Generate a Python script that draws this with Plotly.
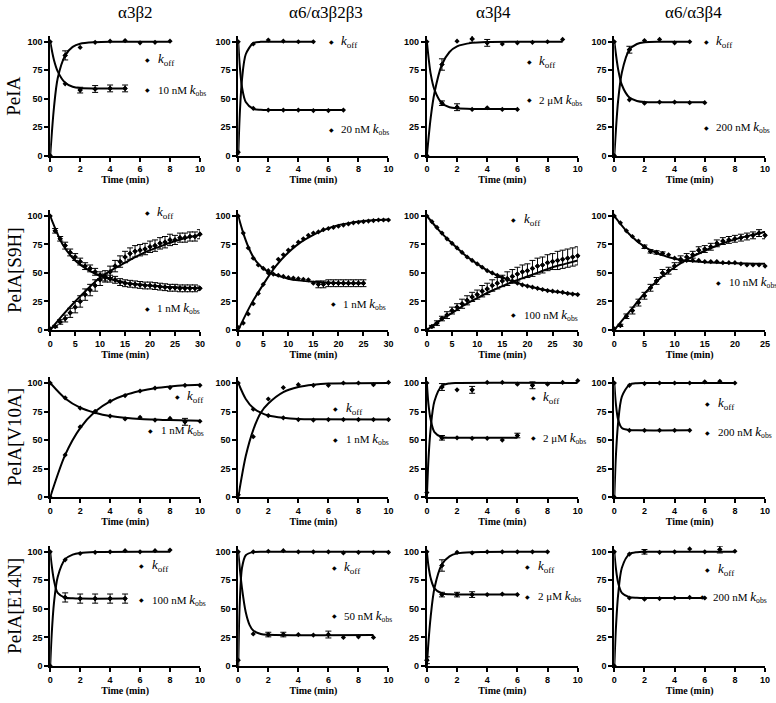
import plotly.graph_objects as go

# column / row headings
col_titles = ["α3β2", "α6/α3β2β3", "α3β4", "α6/α3β4"]
row_titles = ["PeIA", "PeIA[S9H]", "PeIA[V10A]", "PeIA[E14N]"]
conc_labels = [["10 nM", "20 nM", "2 μM", "200 nM"],
               ["1 nM", "1 nM", "100 nM", "10 nM"],
               ["1 nM", "1 nM", "2 μM", "200 nM"],
               ["100 nM", "50 nM", "2 μM", "200 nM"]]
x_max = [[10, 10, 10, 10], [30, 30, 30, 25], [10, 10, 10, 10], [10, 10, 10, 10]]
x_dtick = [[2, 2, 2, 2], [5, 5, 5, 5], [2, 2, 2, 2], [2, 2, 2, 2]]

# ---- PeIA ----
p11_off_t = list(range(9))
p11_off = [0, 88, 95, 99.5, 100.5, 101, 99, 99.5, 100.5]
p11_off_err = [0, 4, 0, 0, 0, 0, 0, 0, 0]
p11_obs_t = list(range(6))
p11_obs = [100, 63, 57.5, 58.5, 59, 59]
p11_obs_err = [0, 0, 2.5, 3, 3, 3]
p11_fit_off_t = [0, 0.25, 0.5, 1, 1.5, 2, 3, 4, 8]
p11_fit_off = [0, 42, 68, 88, 95.5, 98.3, 99.6, 100, 100]
p11_fit_obs_t = [0, 0.25, 0.5, 1, 1.5, 2, 3, 5]
p11_fit_obs = [100, 84, 74, 64, 60.5, 59.4, 59, 59]

p12_off_t = list(range(6))
p12_off = [3, 98, 101.5, 100.5, 100, 100]
p12_off_err = [0, 0, 0, 0, 0, 0]
p12_obs_t = list(range(8))
p12_obs = [100, 41.5, 40, 40, 40, 39.5, 39.5, 40]
p12_obs_err = [0, 0, 0, 0, 0, 0, 0, 0]
p12_fit_off_t = [0, 0.1, 0.25, 0.5, 1, 1.5, 2, 5]
p12_fit_off = [0, 36, 67, 89, 98.8, 99.9, 100, 100]
p12_fit_obs_t = [0, 0.1, 0.25, 0.5, 1, 1.5, 2, 7]
p12_fit_obs = [100, 79, 60, 47, 41, 40.2, 40, 40]

p13_off_t = list(range(10))
p13_off = [0, 80, 100.5, 102.5, 99, 98, 99, 99.5, 100, 102]
p13_off_err = [0, 5, 0, 3, 3, 0, 0, 0, 0, 0]
p13_obs_t = list(range(7))
p13_obs = [100, 46, 42.5, 40.5, 42, 40.5, 40.5]
p13_obs_err = [0, 2, 3, 0, 0, 0, 0]
p13_fit_off_t = [0, 0.25, 0.5, 1, 1.5, 2, 3, 4, 9]
p13_fit_off = [0, 33, 55, 80, 91, 96, 99, 99.8, 100]
p13_fit_obs_t = [0, 0.25, 0.5, 1, 1.5, 2, 3, 6]
p13_fit_obs = [100, 72, 58, 46, 42.5, 41.5, 41, 41]

p14_off_t = list(range(6))
p14_off = [0, 93, 101, 102, 99, 100]
p14_off_err = [0, 3, 0, 0, 0, 0]
p14_obs_t = list(range(7))
p14_obs = [100, 49, 46, 47, 47, 46.5, 46.5]
p14_obs_err = [0, 0, 0, 0, 0, 0, 0]
p14_fit_off_t = [0, 0.25, 0.5, 1, 1.5, 2, 3, 5]
p14_fit_off = [0, 48, 73, 93, 98, 99.5, 100, 100]
p14_fit_obs_t = [0, 0.25, 0.5, 1, 1.5, 2, 3, 6]
p14_fit_obs = [100, 76, 62, 51, 48, 47, 46.8, 46.8]

# ---- PeIA[S9H] ----
p21_off_t = list(range(31))
p21_off = [1, 3, 7, 10, 15, 20, 25, 31, 35, 39, 44, 47, 51, 56, 60, 64,
           67, 69, 70, 71, 73, 74, 76, 77, 79, 79, 81, 81, 82, 82, 84]
p21_off_err = [0, 1, 2, 3, 4, 5, 5, 5, 5, 5, 5, 5, 5, 5, 5, 5,
               5, 5, 5, 5, 5, 5, 5, 5, 5, 4, 4, 4, 4, 4, 4]
p21_obs_t = list(range(31))
p21_obs = [100, 87, 80, 74, 68, 64, 60, 56, 54, 51, 48, 46, 45, 44, 42, 41,
           40.5, 40, 39.5, 39, 39, 38.5, 38, 37.5, 37, 37, 36.5, 36.5, 36.5, 36.5, 36.5]
p21_obs_err = [0, 2, 2, 3, 3, 3, 3, 3, 3, 3, 3, 3, 3, 3, 3, 3,
               3, 3, 3, 3, 3, 3, 3, 3, 3, 3, 3, 3, 3, 3, 2]
p21_fit_off_t = [0, 2.5, 5, 7.5, 10, 12.5, 15, 17.5, 20, 22.5, 25, 27.5, 30]
p21_fit_off = [0, 13, 25, 36, 46, 53, 59, 65, 70, 74, 78, 81, 83.5]
p21_fit_obs_t = [0, 2.5, 5, 7.5, 10, 12.5, 15, 17.5, 20, 22.5, 25, 27.5, 30]
p21_fit_obs = [100, 75, 61, 53, 47.5, 44, 41.5, 40, 39, 38, 37.5, 37, 36.5]

p22_off_t = list(range(31))
p22_off = [2, 6, 14, 23, 32, 40, 50, 55, 62, 66, 70, 73, 77, 80, 83, 85,
           86, 88, 89, 90, 91, 92, 93, 94, 94.5, 95, 95.5, 96, 96.5, 96.5, 96.5]
p22_off_err = [0] * 31
p22_obs_t = list(range(26))
p22_obs = [100, 85, 72, 63, 57, 54, 52, 49, 48, 47, 46, 45.5, 45, 44.5, 44, 41,
           40, 40, 41, 41, 41, 41, 41, 41, 41, 41]
p22_obs_err = [0, 0, 0, 0, 0, 0, 0, 0, 0, 0, 0, 0, 0, 0, 0, 0,
               3, 3, 3, 3, 3, 3, 3, 3, 3, 3]
p22_fit_off_t = [0, 2.5, 5, 7.5, 10, 12.5, 15, 17.5, 20, 22.5, 25, 27.5, 30]
p22_fit_off = [0, 22, 40, 56, 68, 77, 83.5, 88.5, 92, 94, 95.5, 96.5, 97]
p22_fit_obs_t = [0, 1, 2, 3, 4, 5, 6, 8, 10, 12, 15, 20, 25]
p22_fit_obs = [100, 85, 73, 64, 58, 54, 51, 47.5, 45, 43.5, 42.2, 41.2, 41]

p23_off_t = list(range(31))
p23_off = [0, 3, 6, 10, 13, 17, 20, 23, 26, 29, 31, 34, 36, 39, 41, 43,
           45, 47, 49, 51, 52, 54, 56, 57, 59, 60, 61, 62, 63, 64, 65]
p23_off_err = [0, 1, 2, 2, 3, 3, 3, 4, 4, 4, 4, 5, 5, 5, 5, 5,
               6, 6, 6, 6, 6, 7, 7, 7, 7, 7, 8, 8, 8, 8, 8]
p23_obs_t = list(range(31))
p23_obs = [100, 95, 90, 85, 80, 76, 72, 68, 64, 61, 58, 55, 52, 50, 48, 46,
           44, 43, 41, 39.5, 38.5, 37.5, 36.5, 35.5, 34.5, 34, 33.5, 33, 32, 31.5, 31]
p23_obs_err = [0] * 31
p23_fit_off_t = [0, 2.5, 5, 7.5, 10, 12.5, 15, 17.5, 20, 22.5, 25, 27.5, 30]
p23_fit_off = [0, 8, 15, 22, 28, 33.5, 38.5, 43, 47, 51, 55, 58, 61]
p23_fit_obs_t = [0, 2.5, 5, 7.5, 10, 12.5, 15, 17.5, 20, 22.5, 25, 27.5, 30]
p23_fit_obs = [100, 87, 76, 66, 58, 51, 46, 42, 38.5, 36, 34, 32.5, 31]

p24_off_t = list(range(26))
p24_off = [1, 4, 12, 17, 24, 30, 37, 43, 50, 52, 56, 62, 64, 66, 70, 71,
           73, 76, 78, 79, 80, 81, 82, 83, 85, 83]
p24_off_err = [0, 1, 2, 3, 3, 3, 3, 3, 3, 3, 3, 3, 3, 3, 3, 3,
               3, 3, 3, 3, 3, 3, 3, 3, 3, 3]
p24_obs_t = list(range(26))
p24_obs = [100, 94, 87, 82, 78, 73, 69, 68, 67, 66, 63, 61, 61, 61, 61, 60,
           60, 60, 59, 59, 59, 58, 57, 57, 57, 56]
p24_obs_err = [0, 0, 0, 0, 0, 1.5, 1.5, 1.5, 1.5, 0, 0, 0, 0, 0, 0, 0,
               0, 0, 0, 0, 0, 0, 0, 0, 0, 0]
p24_fit_off_t = [0, 2.5, 5, 7.5, 10, 12.5, 15, 17.5, 20, 22.5, 25]
p24_fit_off = [0, 16, 32, 45, 55, 63, 69.5, 75, 79.5, 83, 86]
p24_fit_obs_t = [0, 2.5, 5, 7.5, 10, 12.5, 15, 20, 25]
p24_fit_obs = [100, 84, 73, 66.5, 62.5, 60.5, 59.5, 58.5, 58]

# ---- PeIA[V10A] ----
p31_off_t = list(range(11))
p31_off = [0, 37, 61.5, 75, 84, 89, 93, 95.6, 96, 98, 98]
p31_off_err = [0] * 11
p31_obs_t = list(range(11))
p31_obs = [100, 87, 78, 75, 71, 68.5, 70, 67.5, 69, 66, 66.5]
p31_obs_err = [0, 0, 0, 0, 0, 0, 0, 0, 0, 3, 0]
p31_fit_off_t = [0, 1, 2, 3, 4, 5, 6, 7, 8, 9, 10]
p31_fit_off = [0, 37, 60.5, 75, 84, 89.5, 93, 95.5, 97, 98, 98.5]
p31_fit_obs_t = [0, 1, 2, 3, 4, 5, 6, 7, 8, 10]
p31_fit_obs = [100, 86.5, 78.5, 74, 71, 69.5, 68.5, 68, 67.5, 67]

p32_off_t = list(range(11))
p32_off = [2, 53, 86, 96, 98.5, 98, 98, 100, 100, 98.5, 100.5]
p32_off_err = [0] * 11
p32_obs_t = list(range(11))
p32_obs = [100, 77, 71.5, 69.5, 68, 67.5, 68, 68, 68, 68, 68]
p32_obs_err = [0] * 11
p32_fit_off_t = [0, 0.5, 1, 1.5, 2, 3, 4, 5, 6, 10]
p32_fit_off = [0, 36, 59, 74, 82, 92, 96.5, 98.5, 99.5, 100]
p32_fit_obs_t = [0, 0.5, 1, 1.5, 2, 3, 4, 5, 10]
p32_fit_obs = [100, 86, 78, 74, 71.5, 69.5, 68.5, 68.2, 68]

p33_off_t = list(range(11))
p33_off = [4, 96.5, 94, 94, 100.5, 100.5, 99, 98, 99, 100.5, 102]
p33_off_err = [0, 3, 0, 3, 0, 0, 0, 3, 0, 0, 0]
p33_obs_t = list(range(7))
p33_obs = [100, 52, 52, 51.5, 51.5, 50, 54]
p33_obs_err = [0, 2, 0, 0, 0, 0, 2]
p33_fit_off_t = [0, 0.1, 0.25, 0.5, 1, 1.5, 2, 10]
p33_fit_off = [0, 32, 60, 84, 97.5, 99.6, 100, 100]
p33_fit_obs_t = [0, 0.1, 0.25, 0.5, 1, 1.5, 2, 6]
p33_fit_obs = [100, 82, 68, 57, 52.5, 52, 52, 52]

p34_off_t = list(range(9))
p34_off = [0, 98, 99.5, 100, 100, 100, 101, 101.5, 100]
p34_off_err = [0] * 9
p34_obs_t = list(range(6))
p34_obs = [100, 58.5, 58.5, 58.5, 58.5, 58.5]
p34_obs_err = [0] * 6
p34_fit_off_t = [0, 0.1, 0.25, 0.5, 1, 1.5, 2, 8]
p34_fit_off = [0, 35, 65, 88, 98.5, 99.8, 100, 100]
p34_fit_obs_t = [0, 0.1, 0.25, 0.5, 1, 1.5, 5]
p34_fit_obs = [100, 82, 68, 60.5, 58.7, 58.5, 58.5]

# ---- PeIA[E14N] ----
p41_off_t = list(range(9))
p41_off = [0, 93, 98.5, 99.5, 100, 101, 100, 101, 101.5]
p41_off_err = [0] * 9
p41_obs_t = list(range(6))
p41_obs = [100, 60, 59, 59, 59, 59]
p41_obs_err = [0, 4, 4, 4, 4, 4]
p41_fit_off_t = [0, 0.1, 0.25, 0.5, 1, 1.5, 2, 3, 8]
p41_fit_off = [0, 28, 55, 78, 93.5, 97.5, 99, 99.8, 100]
p41_fit_obs_t = [0, 0.1, 0.25, 0.5, 1, 1.5, 2, 5]
p41_fit_obs = [100, 88, 75, 64, 59.8, 59.2, 59, 59]

p42_off_t = list(range(11))
p42_off = [5, 100, 100.5, 101, 100, 100, 100, 99, 99.5, 99.5, 99.5]
p42_off_err = [0] * 11
p42_obs_t = list(range(10))
p42_obs = [100, 28, 27.5, 27.5, 27.5, 27, 27.5, 25, 25.5, 25]
p42_obs_err = [0, 0, 2, 2, 0, 0, 3, 0, 0, 0]
p42_fit_off_t = [0, 0.05, 0.1, 0.25, 0.5, 1, 2, 10]
p42_fit_off = [0, 35, 55, 86, 97, 99.7, 100, 100]
p42_fit_obs_t = [0, 0.1, 0.25, 0.5, 0.75, 1, 1.5, 2, 9]
p42_fit_obs = [100, 86, 68, 47, 36, 31, 28, 27.3, 27]

p43_off_t = list(range(9))
p43_off = [5, 88, 99.5, 99, 100, 100, 100, 100, 100]
p43_off_err = [3, 5, 0, 0, 0, 0, 0, 0, 0]
p43_obs_t = list(range(7))
p43_obs = [100, 62.5, 62.5, 62.5, 62.5, 63, 62.5]
p43_obs_err = [0, 2, 2, 2.5, 0, 0, 0]
p43_fit_off_t = [0, 0.1, 0.25, 0.5, 1, 1.5, 2, 3, 8]
p43_fit_off = [0, 20, 43, 68, 89, 96, 98.6, 99.7, 100]
p43_fit_obs_t = [0, 0.1, 0.25, 0.5, 1, 1.5, 2, 6]
p43_fit_obs = [100, 88, 77, 68, 63.5, 62.7, 62.5, 62.5]

p44_off_t = list(range(9))
p44_off = [0, 98, 100, 99.5, 100, 102.5, 100, 102, 100.5]
p44_off_err = [0, 0, 2, 0, 0, 0, 0, 3, 0]
p44_obs_t = list(range(7))
p44_obs = [100, 59.5, 58.5, 59, 59.5, 60, 59.5]
p44_obs_err = [0] * 7
p44_fit_off_t = [0, 0.1, 0.25, 0.5, 1, 1.5, 2, 8]
p44_fit_off = [0, 32, 62, 86, 98, 99.7, 100, 100]
p44_fit_obs_t = [0, 0.1, 0.25, 0.5, 1, 1.5, 2, 6]
p44_fit_obs = [100, 86, 73, 64, 60.3, 59.7, 59.5, 59.5]

panels = [
    [(p11_off_t, p11_off, p11_off_err, p11_obs_t, p11_obs, p11_obs_err,
      p11_fit_off_t, p11_fit_off, p11_fit_obs_t, p11_fit_obs),
     (p12_off_t, p12_off, p12_off_err, p12_obs_t, p12_obs, p12_obs_err,
      p12_fit_off_t, p12_fit_off, p12_fit_obs_t, p12_fit_obs),
     (p13_off_t, p13_off, p13_off_err, p13_obs_t, p13_obs, p13_obs_err,
      p13_fit_off_t, p13_fit_off, p13_fit_obs_t, p13_fit_obs),
     (p14_off_t, p14_off, p14_off_err, p14_obs_t, p14_obs, p14_obs_err,
      p14_fit_off_t, p14_fit_off, p14_fit_obs_t, p14_fit_obs)],
    [(p21_off_t, p21_off, p21_off_err, p21_obs_t, p21_obs, p21_obs_err,
      p21_fit_off_t, p21_fit_off, p21_fit_obs_t, p21_fit_obs),
     (p22_off_t, p22_off, p22_off_err, p22_obs_t, p22_obs, p22_obs_err,
      p22_fit_off_t, p22_fit_off, p22_fit_obs_t, p22_fit_obs),
     (p23_off_t, p23_off, p23_off_err, p23_obs_t, p23_obs, p23_obs_err,
      p23_fit_off_t, p23_fit_off, p23_fit_obs_t, p23_fit_obs),
     (p24_off_t, p24_off, p24_off_err, p24_obs_t, p24_obs, p24_obs_err,
      p24_fit_off_t, p24_fit_off, p24_fit_obs_t, p24_fit_obs)],
    [(p31_off_t, p31_off, p31_off_err, p31_obs_t, p31_obs, p31_obs_err,
      p31_fit_off_t, p31_fit_off, p31_fit_obs_t, p31_fit_obs),
     (p32_off_t, p32_off, p32_off_err, p32_obs_t, p32_obs, p32_obs_err,
      p32_fit_off_t, p32_fit_off, p32_fit_obs_t, p32_fit_obs),
     (p33_off_t, p33_off, p33_off_err, p33_obs_t, p33_obs, p33_obs_err,
      p33_fit_off_t, p33_fit_off, p33_fit_obs_t, p33_fit_obs),
     (p34_off_t, p34_off, p34_off_err, p34_obs_t, p34_obs, p34_obs_err,
      p34_fit_off_t, p34_fit_off, p34_fit_obs_t, p34_fit_obs)],
    [(p41_off_t, p41_off, p41_off_err, p41_obs_t, p41_obs, p41_obs_err,
      p41_fit_off_t, p41_fit_off, p41_fit_obs_t, p41_fit_obs),
     (p42_off_t, p42_off, p42_off_err, p42_obs_t, p42_obs, p42_obs_err,
      p42_fit_off_t, p42_fit_off, p42_fit_obs_t, p42_fit_obs),
     (p43_off_t, p43_off, p43_off_err, p43_obs_t, p43_obs, p43_obs_err,
      p43_fit_off_t, p43_fit_off, p43_fit_obs_t, p43_fit_obs),
     (p44_off_t, p44_off, p44_off_err, p44_obs_t, p44_obs, p44_obs_err,
      p44_fit_off_t, p44_fit_off, p44_fit_obs_t, p44_fit_obs)],
]

# in-panel key positions (axis units): (x_koff, y_koff, x_kobs, y_kobs)
key_pos = [
    [(6.5, 84, 6.5, 58), (6.2, 100, 6.2, 23), (6.8, 83, 6.8, 49), (6.1, 100, 6.1, 25)],
    [(19.4, 103, 19.4, 19), (19, 106, 19, 23), (17.3, 97, 17.3, 13.5), (17.3, 106, 17.3, 42)],
    [(8.5, 88, 6.7, 58.5), (6.5, 77.5, 6.5, 50.5), (7.05, 87, 7.05, 52), (6.2, 82, 6.2, 57)],
    [(6.1, 88, 6.1, 58), (6.4, 86, 6.4, 44), (6.7, 87, 6.7, 61), (6.2, 84.5, 5.85, 60.5)],
]

W, H = 776, 703
col_px = [(47.7, 199.0), (237.7, 389.5), (428.3, 580.7), (617.7, 770.0)]
row_px = [(36.3, 156.7), (211.8, 332.3), (380.0, 500.7), (550.0, 670.7)]
title_cx = [134, 326, 496, 698]

SERIF = "Liberation Serif"
SANS = "Liberation Sans"

fig = go.Figure()
layout = dict(width=W, height=H, margin=dict(l=0, r=0, t=0, b=0),
              paper_bgcolor="white", plot_bgcolor="white", showlegend=False)
annotations = []

mk = dict(symbol="diamond", size=4, color="black")


def add_points(t, y, err, xa, ya):
    fig.add_trace(go.Scatter(x=t, y=y, mode="markers", marker=mk, xaxis=xa, yaxis=ya,
                             cliponaxis=False, hoverinfo="skip"))
    et = [a for a, e in zip(t, err) if e > 0]
    ey = [b for b, e in zip(y, err) if e > 0]
    ee = [e for e in err if e > 0]
    if ee:
        fig.add_trace(go.Scatter(x=et, y=ey, mode="markers", marker=mk, xaxis=xa, yaxis=ya,
                                 cliponaxis=False, hoverinfo="skip",
                                 error_y=dict(type="data", array=ee, color="black",
                                              thickness=1, width=3)))


def add_fit(t, y, xa, ya):
    fig.add_trace(go.Scatter(x=t, y=y, mode="lines", xaxis=xa, yaxis=ya,
                             line=dict(color="black", width=2, shape="spline", smoothing=0.8),
                             cliponaxis=False, hoverinfo="skip"))


def px_x(v):
    return v / W


def px_y(v):
    return 1 - v / H


for r in range(4):
    for c in range(4):
        n = r * 4 + c + 1
        sfx = "" if n == 1 else str(n)
        xa, ya = "x" + sfx, "y" + sfx
        (off_t, off, off_err, obs_t, obs, obs_err,
         fon_t, fon, fob_t, fob) = panels[r][c]
        add_fit(fon_t, fon, xa, ya)
        add_fit(fob_t, fob, xa, ya)
        add_points(off_t, off, off_err, xa, ya)
        add_points(obs_t, obs, obs_err, xa, ya)

        x0, x1 = col_px[c]
        y0, y1 = row_px[r]
        axis_common = dict(showline=True, linecolor="black", linewidth=2, ticks="outside",
                           ticklen=4, tickwidth=1.5, tickcolor="black", showgrid=False,
                           zeroline=False, ticklabeloverflow="allow",
                           tickfont=dict(family=SANS, size=9, color="black", weight="bold"))
        layout["xaxis" + sfx] = dict(domain=[px_x(x0), px_x(x1)], range=[0, x_max[r][c]],
                                     dtick=x_dtick[r][c], tick0=0, anchor=ya,
                                     title=dict(text="Time (min)", standoff=3,
                                                font=dict(family=SERIF, size=10, color="black",
                                                          weight="bold")),
                                     **axis_common)
        layout["yaxis" + sfx] = dict(domain=[px_y(y1), px_y(y0)], range=[0, 105],
                                     tickvals=[0, 25, 50, 75, 100], anchor=xa, **axis_common)

        kx1, ky1, kx2, ky2 = key_pos[r][c]
        k_off_txt = "<i>k</i><sub>off</sub>"
        k_obs_txt = (conc_labels[r][c] +
                     " <span style='font-size:13px'><i>k</i></span><sub>obs</sub>")
        for kx, ky, label, fs in [(kx1, ky1, k_off_txt, 13), (kx2, ky2, k_obs_txt, 11)]:
            annotations.append(dict(x=kx, y=ky, xref=xa, yref=ya, text="◆", showarrow=False,
                                    font=dict(family="DejaVu Sans", size=6, color="black"),
                                    xanchor="center", yanchor="middle"))
            annotations.append(dict(x=kx, y=ky, xref=xa, yref=ya, text=label, showarrow=False,
                                    font=dict(family=SERIF, size=fs, color="black"),
                                    xanchor="left", yanchor="middle", xshift=8))

for c, t in enumerate(col_titles):
    annotations.append(dict(x=px_x(title_cx[c]), y=px_y(13), xref="paper", yref="paper",
                            text=t, showarrow=False, xanchor="center", yanchor="middle",
                            font=dict(family=SERIF, size=17, color="black")))
for r, t in enumerate(row_titles):
    y0, y1 = row_px[r]
    annotations.append(dict(x=px_x(11), y=px_y((y0 + y1) / 2), xref="paper", yref="paper",
                            text=t, showarrow=False, textangle=-90, xanchor="center",
                            yanchor="middle", font=dict(family=SERIF, size=19, color="black")))

layout["annotations"] = annotations
fig.update_layout(**layout)
# drop the default page margin so the figure sits at the window's top-left corner
fig.write_html("out.html", config={"displayModeBar": False},
               post_script="document.body.style.margin='0';")
